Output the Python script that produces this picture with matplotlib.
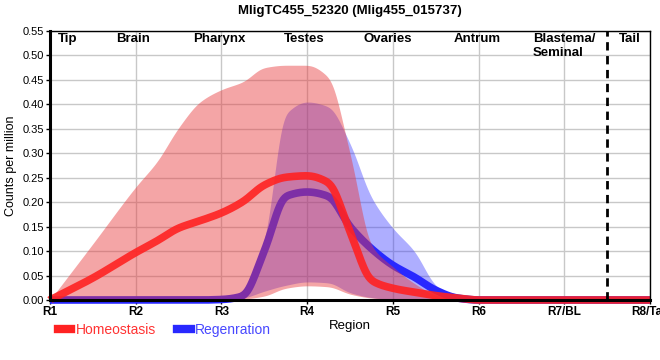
import numpy as np
import matplotlib
matplotlib.use('Agg')
import matplotlib.pyplot as plt
from matplotlib.lines import Line2D

plt.rcParams['font.family'] = ['Liberation Sans', 'DejaVu Sans']

# sample positions along the body (0 = R1 ... 7 = R8/Tail)
pos = [0, 0.5, 1, 1.25, 1.5, 1.75, 2, 2.25, 2.5, 2.75, 3, 3.25, 3.5, 3.75,
       4, 4.25, 4.5, 4.75, 5, 6, 7]

# Homeostasis: mean and band
homeo_mean = [0, 0.045, 0.097, 0.121, 0.147, 0.162, 0.178, 0.201, 0.235, 0.251,
              0.254, 0.240, 0.140, 0.040, 0.024, 0.016, 0.009, 0.004, 0, 0, 0]
homeo_hi = [0, 0.115, 0.231, 0.283, 0.352, 0.405, 0.430, 0.446, 0.475, 0.480,
            0.480, 0.455, 0.300, 0.112, 0.068, 0.034, 0.010, 0.002, 0, 0, 0]
homeo_lo = [0, 0, 0, 0, 0, 0, 0, 0.002, 0.008, 0.024,
            0.029, 0.027, 0.012, 0.004, 0.001, 0, 0, 0, 0, 0, 0]

# Regeneration: mean and band
regen_mean = [0, 0, 0, 0, 0, 0, 0.001, 0.008, 0.100, 0.212,
              0.221, 0.212, 0.150, 0.105, 0.071, 0.047, 0.020, 0.004, 0, 0, 0]
regen_hi = [0, 0, 0, 0, 0, 0, 0.002, 0.020, 0.120, 0.380,
            0.405, 0.395, 0.320, 0.210, 0.147, 0.100, 0.030, 0.002, 0, 0, 0]
regen_lo = [0, 0, 0, 0, 0, 0, 0, 0.004, 0.018, 0.030,
            0.037, 0.035, 0.015, 0.005, 0.001, 0, 0, 0, 0, 0, 0]

tick_labels = ['R1', 'R2', 'R3', 'R4', 'R5', 'R6', 'R7/BL', 'R8/Tail']
regions = ['Tip', 'Brain', 'Pharynx', 'Testes', 'Ovaries', 'Antrum',
           'Blastema/\nSeminal', 'Tail']
region_x = [0.21, 0.97, 1.98, 2.96, 3.94, 4.98, 6.0, 6.77]
tail_start = 6.5


def pchip(x, y, xs):
    # monotone cubic interpolation for the smooth curves
    x = np.asarray(x, float)
    y = np.asarray(y, float)
    h = np.diff(x)
    d = np.diff(y) / h
    m = np.zeros_like(y)
    for k in range(1, len(y) - 1):
        if d[k - 1] * d[k] > 0:
            w1 = 2 * h[k] + h[k - 1]
            w2 = h[k] + 2 * h[k - 1]
            m[k] = (w1 + w2) / (w1 / d[k - 1] + w2 / d[k])
    m[0] = d[0]
    m[-1] = d[-1]
    idx = np.clip(np.searchsorted(x, xs) - 1, 0, len(x) - 2)
    t = (xs - x[idx]) / h[idx]
    h00 = 2 * t**3 - 3 * t**2 + 1
    h10 = t**3 - 2 * t**2 + t
    h01 = -2 * t**3 + 3 * t**2
    h11 = t**3 - t**2
    return (h00 * y[idx] + h10 * h[idx] * m[idx] +
            h01 * y[idx + 1] + h11 * h[idx] * m[idx + 1])


def curve(y, xs, win=11):
    # spline, then a light moving average to soften the joints
    c = pchip(pos, y, xs)
    pad = np.pad(c, win // 2, mode='edge')
    out = np.convolve(pad, np.ones(win) / win, mode='valid')
    out[0] = c[0]
    return out


xs = np.linspace(0, 7, 701)
red = '#ff2222'
blue = '#2828ff'

fig = plt.figure(figsize=(6.6, 3.6), dpi=100)
ax = fig.add_axes([50 / 660, 60 / 360, 600 / 660, 269 / 360])
ax.set_axisbelow(True)

# regeneration band + line first, homeostasis on top
ax.fill_between(xs, curve(regen_lo, xs), curve(regen_hi, xs),
                color='#3535ff', alpha=0.4, lw=0, zorder=1)
ax.plot(xs, curve(regen_mean, xs), color=blue, lw=5.5,
        solid_capstyle='butt', clip_on=False, zorder=1.1)
ax.fill_between(xs, curve(homeo_lo, xs), curve(homeo_hi, xs),
                color='#e8383a', alpha=0.45, lw=0, zorder=1.2)
ax.plot(xs, curve(homeo_mean, xs), color=red, lw=5.5, alpha=0.9,
        solid_capstyle='butt', clip_on=False, zorder=1.3)

ax.axvline(tail_start, color='black', lw=2, ls=(0, (3, 2)), zorder=2)

for name, rx in zip(regions, region_x):
    ax.text(rx, 0.546, name, ha='center', va='top', fontsize=9.5,
            fontweight='bold', multialignment='left')

ax.set_xlim(0, 7)
ax.set_ylim(0, 0.55)
ax.set_xticks(range(len(tick_labels)))
ax.set_xticklabels(tick_labels, fontweight='bold', fontsize=8.5)
ax.set_yticks(np.arange(0, 0.551, 0.05))
ax.set_yticklabels([f'{v:.2f}' for v in np.arange(0, 0.551, 0.05)], fontsize=8)
ax.tick_params(axis='both', length=3, width=1, pad=1)
ax.grid(color='#c8c8c8', lw=1)

ax.spines['left'].set_linewidth(2.2)
ax.spines['bottom'].set_linewidth(2.2)
ax.spines['top'].set_linewidth(1)
ax.spines['right'].set_linewidth(1)

ax.set_ylabel('Counts per million', fontsize=9, labelpad=4)
ax.set_xlabel('Region', fontsize=9.5, labelpad=2)
ax.set_title('MligTC455_52320 (Mlig455_015737)', fontsize=9.5,
             fontweight='bold', pad=12)

handles = [Line2D([], [], color=red, lw=6), Line2D([], [], color=blue, lw=6)]
leg = fig.legend(handles, ['Homeostasis', 'Regenration'], ncol=2,
                 loc='center left', bbox_to_anchor=(45 / 660, 30 / 360),
                 frameon=False, fontsize=10, handlelength=1.0,
                 handletextpad=0.3, columnspacing=1.5)
for txt, c in zip(leg.get_texts(), ['#ff3333', '#4848ff']):
    txt.set_color(c)

fig.savefig('out.png', dpi=100)
